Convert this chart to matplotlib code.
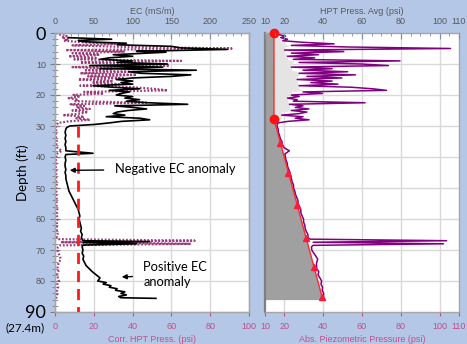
import numpy as np
import pandas as pd
import matplotlib.pyplot as plt
from matplotlib.ticker import MultipleLocator

# EC log, mS/m against depth in ft
ec_depth = [1.5, 2.0, 2.4, 2.8, 3.3, 3.8, 4.3, 4.8, 5.3, 5.9, 6.2, 6.6, 7.0, 7.5, 8.0,
            8.5, 9.0, 9.5, 10.0, 10.5, 11.0, 11.5, 12.0, 12.5, 13.0, 13.5, 14.0, 14.5,
            15.0, 15.5, 16.0, 16.5, 17.0, 17.5, 18.0, 18.5, 19.0, 19.5, 20.0, 20.5,
            21.0, 21.5, 22.0, 22.5, 23.0, 23.5, 24.0, 24.5, 25.0, 25.5, 26.0, 26.5,
            27.0, 27.5, 28.0, 28.5, 29.0, 29.5, 30.0, 30.5, 31, 32, 33, 34, 35, 36,
            37, 38, 38.8, 39.2, 40, 41, 42, 43, 44, 45, 46, 47, 48, 49, 50, 51, 52,
            53, 54, 55, 56, 57, 58, 59, 60, 61, 62, 63, 64, 65, 66, 67, 67.3, 67.6,
            68.0, 68.4, 69, 70, 71, 72, 73, 74, 75, 76, 77, 78, 79, 80, 80.5, 81,
            81.5, 82, 82.5, 83, 83.5, 84, 84.5, 85, 85.4, 85.6]
ec_ms_m = [17, 73, 30, 36, 92, 80, 150, 162, 222, 105, 143, 110, 75, 100, 70,
           58, 100, 80, 145, 45, 139, 58, 182, 95, 111, 175, 150, 100,
           79, 100, 85, 100, 49, 75, 109, 70, 96, 85, 79, 100,
           90, 109, 92, 120, 171, 77, 100, 118, 94, 80, 75, 90,
           66, 110, 122, 86, 70, 51, 19, 15, 14, 13, 14, 13, 14, 13,
           14, 14, 49, 14, 13, 14, 13, 13, 14, 13, 14, 14, 15, 16, 17, 18, 20,
           22, 24, 26, 28, 30, 31, 32, 31, 32, 33, 34, 33, 35, 34, 36, 122, 36,
           105, 36, 35, 36, 35, 37, 36, 38, 40, 44, 48, 53, 58, 55, 66, 62,
           72, 70, 80, 78, 90, 85, 92, 82, 85, 130]

# corrected HPT pressure (psi above hydrostatic)
hpt_depth = [0, 0.5, 1, 1.5, 2, 2.5, 3, 3.5, 4, 4.5, 5, 5.5, 6, 6.5, 7, 7.5, 8, 8.5,
             9, 9.5, 10, 10.5, 11, 11.5, 12, 12.5, 13, 13.5, 14, 14.5, 15, 15.5, 16,
             16.5, 17, 17.5, 18, 18.5, 19, 19.5, 20, 20.5, 21, 21.5, 22, 22.5, 23,
             23.5, 24, 24.5, 25, 25.5, 26, 26.5, 27, 27.5, 28, 28.5, 29, 29.5, 30,
             31, 32, 33, 34, 35, 36, 37, 38, 39, 40, 41, 42, 43, 44, 45, 46, 47, 48,
             49, 50, 51, 52, 53, 54, 55, 56, 57, 58, 59, 60, 61, 62, 63, 64, 65, 66,
             66.5, 67, 67.5, 68, 68.5, 69, 70, 71, 72, 73, 74, 75, 76, 77, 78, 79, 80,
             81, 82, 83, 84, 85, 86]
corr_hpt_psi = [0.5, 2.5, 6, 3.5, 7, 4.5, 15, 31, 9, 37, 91, 5.5, 36, 9, 23, 7, 21, 10,
                65, 13, 45, 59, 9, 30, 15, 38, 13, 42, 17, 35, 12, 30, 19,
                33, 13, 40, 51, 58, 15, 25, 9, 13, 7, 12, 10, 47, 8,
                15, 11, 18, 9, 17, 13, 4, 15, 11, 18, 7, 1.5, 1, 0.5,
                0.8, 0.4, 0.6, 0.5, 1.0, 0.7, 1.2, 3.5, 0.8, 0.6, 0.5, 0.7, 0.4, 0.6, 0.8, 0.5, 0.7, 0.6,
                0.9, 0.5, 0.7, 0.6, 0.8, 1.0, 0.7, 0.9, 1.2, 0.8, 1.0, 1.3, 0.9, 1.1, 0.8, 1.0, 1.4, 1.0,
                1.8, 72, 3, 70, 2.5, 1.5, 1.2, 1.8, 2.5, 3.0, 2.0, 1.5, 1.2, 1.8, 1.0, 1.5, 2.0,
                1.2, 1.6, 1.0, 1.3, 0.8, 0.5]

# hydrostatic pressure: atmospheric down to the water table, then 0.433 psi/ft
hydro_depth = [0, 27.7, 86]
hydro_psi = [14.6, 14.6, 39.8]
marker_depth = [35.5, 45, 55.5, 66, 75.5, 85]
ec_cutoff = 29

BG = "#b4c7e7"
GRID = "#d9d9d9"
PINK = "#c0508c"
TXT = "#595959"
W, H = 467, 344

fig = plt.figure(figsize=(W / 100, H / 100), dpi=100, facecolor=BG)


def box(x0, x1, y0=33, y1=312):
    return [x0 / W, 1 - y1 / H, (x1 - x0) / W, (y1 - y0) / H]


def style(ax):
    for s in ax.spines.values():
        s.set_color("#a6a6a6")
        s.set_linewidth(1)
    ax.set_ylim(90, 0)
    ax.yaxis.set_major_locator(MultipleLocator(10))
    ax.grid(True, color=GRID, lw=1)
    ax.set_axisbelow(True)


def top_ticks(t):
    t.tick_params(axis="x", which="both", direction="in", color="#8090b0",
                  labelsize=6.5, labelcolor=TXT, pad=5)
    t.tick_params(axis="x", which="major", length=4)
    t.tick_params(axis="x", which="minor", length=2)
    for lab in t.get_xticklabels():
        lab.set_fontfamily("Liberation Sans")


# ---- left panel: Corr. HPT press (bottom) and EC (top)
ax = fig.add_axes(box(55, 249))
style(ax)
ax.set_xlim(0, 100)
ax.xaxis.set_major_locator(MultipleLocator(20))
ax.yaxis.set_minor_locator(MultipleLocator(2))
ax.tick_params(axis="x", colors=PINK, labelsize=6.5, length=3, pad=4)
ax.tick_params(axis="y", which="major", direction="inout", length=7, color="#808080",
               labelsize=6.5, labelcolor=TXT, pad=3)
ax.tick_params(axis="y", which="minor", direction="inout", length=4, color="#808080")
for lab in ax.get_xticklabels():
    lab.set_fontfamily("Liberation Sans")
ax.set_yticks(range(0, 100, 10))
ax.set_yticklabels([str(v) for v in range(0, 100, 10)], family="Liberation Sans")
for lab in ax.get_yticklabels():
    if lab.get_text() in ("0", "90"):
        lab.set_fontsize(13)
        lab.set_color("black")
        lab.set_fontfamily("Lato")
ax.set_xlabel("Corr. HPT Press. (psi)", color=PINK, fontsize=6.5,
              family="Liberation Sans", labelpad=3)
ax.set_ylabel("Depth (ft)", fontsize=9.5, family="Lato")
ax.yaxis.set_label_coords(-0.135, 0.5)
ax.plot(corr_hpt_psi, hpt_depth, color="#9c3c78", lw=1.6, ls=(0, (0.8, 0.8)))

top = ax.twiny()
top.set_xlim(0, 250)
top.set_ylim(90, 0)
top.xaxis.set_major_locator(MultipleLocator(50))
top.xaxis.set_minor_locator(MultipleLocator(10))
top_ticks(top)
for s in top.spines.values():
    s.set_color("#a6a6a6")
top.set_xlabel("EC (mS/m)", color=TXT, fontsize=6.5, family="Liberation Sans", labelpad=2)
top.plot(ec_ms_m, ec_depth, color="black", lw=1.2)
top.plot([ec_cutoff, ec_cutoff], [30, 90], color="#ff1a1a", lw=2, ls=(0, (4, 2.5)))

top.annotate("Negative EC anomaly", xy=(19, 44.3), xytext=(77, 44), fontsize=9.3,
             family="Lato", va="center",
             arrowprops=dict(arrowstyle="-|>", color="black", lw=1,
                             shrinkA=6, shrinkB=0, mutation_scale=7))
top.annotate("Positive EC\nanomaly", xy=(86, 78.7), xytext=(114, 78), fontsize=9.3,
             family="Lato", va="center", linespacing=1.3,
             arrowprops=dict(arrowstyle="-|>", color="black", lw=1,
                             shrinkA=6, shrinkB=0, mutation_scale=7))

fig.text(25.5 / W, 1 - 328 / H, "(27.4m)", fontsize=8.5, family="Lato",
         ha="center", va="center")

# ---- right panel: absolute pressure against hydrostatic
ax2 = fig.add_axes(box(265, 459))
style(ax2)
ax2.spines["left"].set_color("#7f7f7f")
ax2.spines["left"].set_linewidth(1.6)
ax2.set_xlim(10, 110)
ax2.set_xticks([10, 20, 40, 60, 80, 100, 110])
ax2.grid(False)
for v in [20, 40, 60, 80, 100]:
    ax2.axvline(v, color=GRID, lw=1, zorder=0)
for v in range(10, 90, 10):
    ax2.axhline(v, color=GRID, lw=1, zorder=0)
ax2.tick_params(axis="y", left=False, labelleft=False)
ax2.tick_params(axis="x", colors=PINK, labelsize=6.5, length=3, pad=4)
for lab in ax2.get_xticklabels():
    lab.set_fontfamily("Liberation Sans")
ax2.set_xlabel("Abs. Piezometric Pressure (psi)", color=PINK, fontsize=6.5,
               family="Liberation Sans", labelpad=3)

hd = np.array(hpt_depth, dtype=float)
hydro_at = np.interp(hd, hydro_depth, hydro_psi)
abs_psi = np.array(corr_hpt_psi) + hydro_at

fill_d = np.linspace(0, 86, 200)
ax2.fill_betweenx(fill_d, 10, np.interp(fill_d, hydro_depth, hydro_psi),
                  color="#a0a0a0", lw=0, zorder=1)
upper = hd <= 29.5
env = pd.Series(abs_psi[upper]).rolling(5, center=True, min_periods=1).min().values
ax2.fill_betweenx(hd[upper], hydro_at[upper], env, color="#e4e4e4", lw=0, zorder=1)

ax2.plot(abs_psi, hd, color="#800080", lw=1.1, zorder=3)
ax2.plot(hydro_psi, hydro_depth, color="#ff2a2a", lw=1, zorder=4)
ax2.plot([hydro_psi[0], hydro_psi[1]], [hydro_depth[0], hydro_depth[1]], "o",
         color="#ff1010", ms=6, zorder=5, clip_on=False)
ax2.plot(np.interp(marker_depth, hydro_depth, hydro_psi), marker_depth, "^",
         color="#ff1a3a", ms=5, zorder=5)

top2 = ax2.twiny()
top2.set_xlim(10, 110)
top2.set_ylim(90, 0)
top2.set_xticks([10, 20, 40, 60, 80, 100, 110])
top2.xaxis.set_minor_locator(MultipleLocator(5))
top_ticks(top2)
for s in top2.spines.values():
    s.set_visible(False)
top2.set_xlabel("HPT Press. Avg (psi)", color=TXT, fontsize=6.5,
                family="Liberation Sans", labelpad=2)

fig.savefig("out.png", dpi=100, facecolor=BG)
